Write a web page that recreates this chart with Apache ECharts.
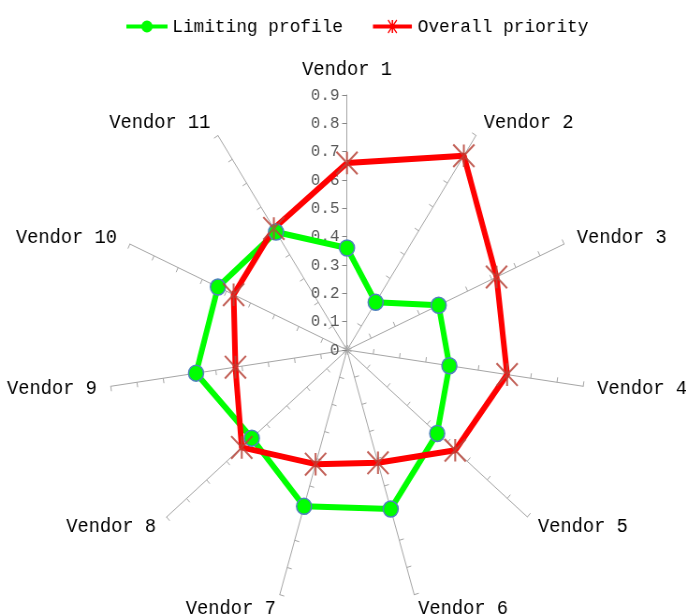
<!DOCTYPE html>
<html><head><meta charset="utf-8">
<script src="https://cdn.jsdelivr.net/npm/echarts@6/dist/echarts.min.js"></script>
<style>
html,body{margin:0;padding:0;background:#fff;overflow:hidden;width:686px;height:616px}
#c{width:733px;height:616px;transform:scaleX(0.936);transform-origin:0 0}
</style>
</head><body><div id="c"></div>
<script>
const vendors = ['Vendor 1','Vendor 2','Vendor 3','Vendor 4','Vendor 5','Vendor 6','Vendor 7','Vendor 8','Vendor 9','Vendor 10','Vendor 11'];
const limitingProfile = [0.36, 0.20, 0.38, 0.39, 0.45, 0.585, 0.575, 0.475, 0.575, 0.535, 0.495];
const overallPriority = [0.66, 0.815, 0.62, 0.61, 0.54, 0.415, 0.42, 0.525, 0.425, 0.47, 0.51];
const tickLabels = ['0','0.1','0.2','0.3','0.4','0.5','0.6','0.7','0.8','0.9'];
const axisMax = 0.9;

// ECharts radar runs counter-clockwise: reorder so vendors go clockwise
const cw = (arr) => [arr[0]].concat(arr.slice(1).reverse());

const FONT = '"Liberation Mono", "DejaVu Sans Mono", monospace';
const w = 0.09, d = w * 0.7071;
const starPath = 'path://' +
  `M${-w},-1 L${w},-1 L${w},1 L${-w},1 Z ` +
  `M${-1+d},${-1-d} L${-1-d},${-1+d} L${1-d},${1+d} L${1+d},${1-d} Z ` +
  `M${1-d},${-1-d} L${1+d},${-1+d} L${-1+d},${1+d} L${-1-d},${1-d} Z`;

const legendGreen = 'path://M0,5 L44,5 L44,9 L0,9 Z M28,7 A6,6 0 1,1 16,7 A6,6 0 1,1 28,7 Z';
const legendRed = 'path://M0,5 L44,5 L44,9 L0,9 Z ' +
  'M21.2,0 L22.8,0 L22.8,14 L21.2,14 Z ' +
  'M16.6,0.6 L17.6,-0.4 L27.4,13.4 L26.4,14.4 Z ' +
  'M26.4,-0.4 L27.4,0.6 L17.6,14.4 L16.6,13.4 Z';

const CX = 370.7, CY = 350, R = 255;

const chart = echarts.init(document.getElementById('c'));
chart.setOption({
  animation: false,
  backgroundColor: '#fff',
  legend: {
    top: 12, left: 130, itemGap: 32, itemWidth: 44, itemHeight: 14,
    textStyle: { fontFamily: FONT, fontSize: 19, color: '#000' },
    data: [
      { name: 'Limiting profile', icon: legendGreen, itemStyle: { color: '#00ff00', borderWidth: 0 } },
      { name: 'Overall priority', icon: legendRed, itemStyle: { color: '#ff0000', borderWidth: 0 } }
    ]
  },
  grid: { left: CX, top: CY - R, height: R, width: 1 },
  xAxis: { type: 'value', show: false },
  yAxis: {
    type: 'value', min: 0, max: axisMax, interval: 0.1,
    axisLine: { show: false }, splitLine: { show: false },
    axisTick: { show: true, length: 5, lineStyle: { color: '#868686' } },
    axisLabel: {
      margin: 8, color: '#595959', fontFamily: FONT, fontSize: 17,
      formatter: (v) => tickLabels[Math.round(v * 10)]
    }
  },
  radar: {
    center: [CX, CY], radius: R, startAngle: 90, shape: 'polygon',
    splitNumber: 9,
    indicator: cw(vendors).map(n => ({ name: n, max: axisMax, min: 0 })),
    axisName: { color: '#000', fontFamily: FONT, fontSize: 20 },
    nameGap: 15,
    axisLine: { lineStyle: { color: '#a6a6a6', width: 1 } },
    axisTick: { show: true, length: 5, lineStyle: { color: '#a6a6a6' } },
    splitLine: { show: false }, splitArea: { show: false },
    axisLabel: { show: false }
  },
  series: [{
    type: 'radar',
    data: [
      { name: 'Limiting profile', value: cw(limitingProfile),
        symbol: 'circle', symbolSize: 16,
        lineStyle: { color: '#00ff00', width: 6 },
        itemStyle: { color: '#00ff00', borderColor: '#4f81bd', borderWidth: 1.5 } },
      { name: 'Overall priority', value: cw(overallPriority),
        symbol: starPath, symbolSize: 24,
        lineStyle: { color: '#ff0000', width: 6 },
        itemStyle: { color: 'rgba(185,70,60,0.85)' } }
    ]
  }]
});
</script></body></html>
